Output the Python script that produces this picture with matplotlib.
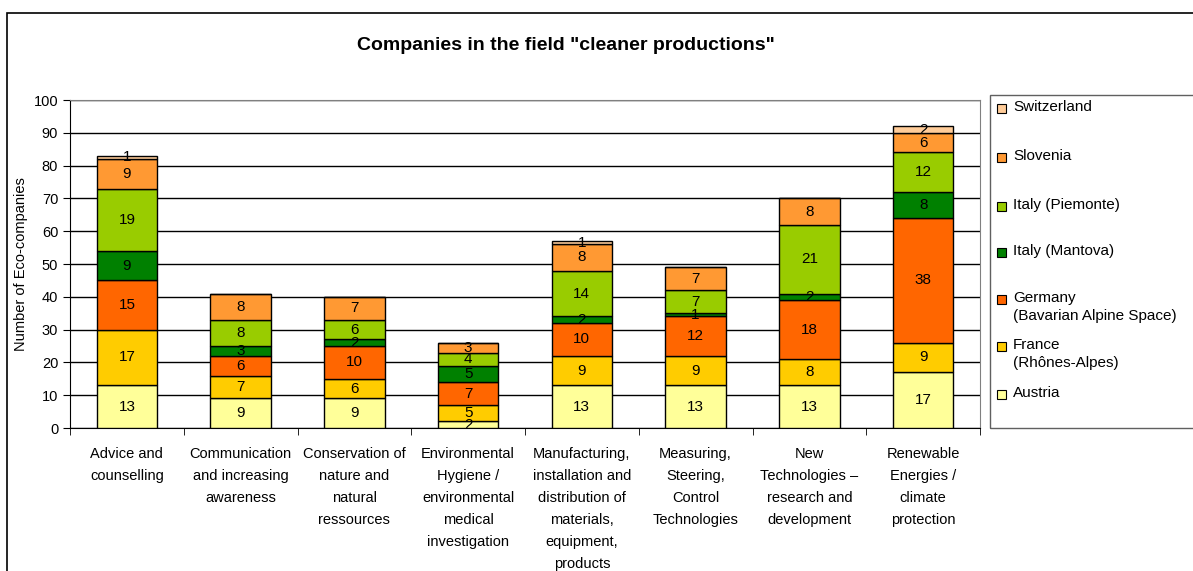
import matplotlib.pyplot as plt
from matplotlib.patches import Rectangle
import numpy as np

plt.rcParams['font.family'] = ['Liberation Sans', 'DejaVu Sans']

categories = [
    "Advice and\ncounselling",
    "Communication\nand increasing\nawareness",
    "Conservation of\nnature and\nnatural\nressources",
    "Environmental\nHygiene /\nenvironmental\nmedical\ninvestigation",
    "Manufacturing,\ninstallation and\ndistribution of\nmaterials,\nequipment,\nproducts",
    "Measuring,\nSteering,\nControl\nTechnologies",
    "New\nTechnologies \u2013\nresearch and\ndevelopment",
    "Renewable\nEnergies /\nclimate\nprotection",
]

# stacked from bottom to top
austria     = [13, 9, 9, 2, 13, 13, 13, 17]
france      = [17, 7, 6, 5, 9, 9, 8, 9]
germany     = [15, 6, 10, 7, 10, 12, 18, 38]
mantova     = [9, 3, 2, 5, 2, 1, 2, 8]
piemonte    = [19, 8, 6, 4, 14, 7, 21, 12]
slovenia    = [9, 8, 7, 3, 8, 7, 8, 6]
switzerland = [1, 0, 0, 0, 1, 0, 0, 2]

series = [austria, france, germany, mantova, piemonte, slovenia, switzerland]
labels = ["Austria", "France\n(Rh\u00f4nes-Alpes)", "Germany\n(Bavarian Alpine Space)",
          "Italy (Mantova)", "Italy (Piemonte)", "Slovenia", "Switzerland"]
colors = ["#FFFF99", "#FFCC00", "#FF6600", "#008000", "#99CC00", "#FF9933", "#FFCC99"]

fig = plt.figure(figsize=(11.93, 5.71), dpi=100)
ax = fig.add_axes([70 / 1193, 1 - 428 / 571, 910 / 1193, 328 / 571])

x = np.arange(len(categories))
bottom = np.zeros(len(categories))
for vals, col in zip(series, colors):
    vals = np.array(vals, dtype=float)
    ax.bar(x, vals, bottom=bottom, width=0.53, color=col, edgecolor='black',
           linewidth=1, zorder=3)
    for xi, b, v in zip(x, bottom, vals):
        if v > 0:
            ax.text(xi, b + v / 2, f"{int(v)}", ha='center', va='center',
                    fontsize=11, zorder=4)
    bottom += vals

ax.set_xlim(-0.5, len(categories) - 0.5)
ax.set_ylim(0, 100)
ax.set_yticks(range(0, 101, 10))
ax.yaxis.grid(True, color='black', linewidth=1, zorder=0)
ax.tick_params(axis='y', labelsize=10.5, length=5, direction='out')

ax.set_xticks(x)
ax.set_xticklabels(categories, fontsize=10.5, linespacing=1.72, va='top')
ax.tick_params(axis='x', which='major', length=0, pad=14)
ax.set_xticks(np.arange(-0.5, len(categories)), minor=True)
ax.tick_params(axis='x', which='minor', length=5, direction='out')

for s in ['top', 'right']:
    ax.spines[s].set_color('#808080')
for s in ['left', 'bottom']:
    ax.spines[s].set_color('black')

ax.set_ylabel("Number of Eco-companies", fontsize=10.5, labelpad=4)

fig.text(566 / 1193, 1 - 45 / 571, 'Companies in the field "cleaner productions"',
         ha='center', va='center', fontsize=14, fontweight='bold')

# outer chart frame
fig.patches.append(Rectangle((7 / 1193, -0.1), 1.2, 1 - 13 / 571 + 0.1,
                             transform=fig.transFigure, fill=False,
                             edgecolor='black', linewidth=1.2))

# legend box
fig.patches.append(Rectangle((990 / 1193, 1 - 428 / 571), 0.3, 333 / 571,
                             transform=fig.transFigure, fill=False,
                             edgecolor='#606060', linewidth=1))
leg_y = [395, 347, 300, 253, 207, 158, 109]
for lab, col, yy in zip(labels, colors, leg_y):
    fig.patches.append(Rectangle((997 / 1193, 1 - (yy + 4) / 571), 9 / 1193, 9 / 571,
                                 transform=fig.transFigure, facecolor=col,
                                 edgecolor='black', linewidth=0.8))
    fig.text(1013 / 1193, 1 - (yy - 9) / 571, lab, ha='left', va='top',
             fontsize=11, linespacing=1.4)

fig.savefig("out.png", dpi=100)
